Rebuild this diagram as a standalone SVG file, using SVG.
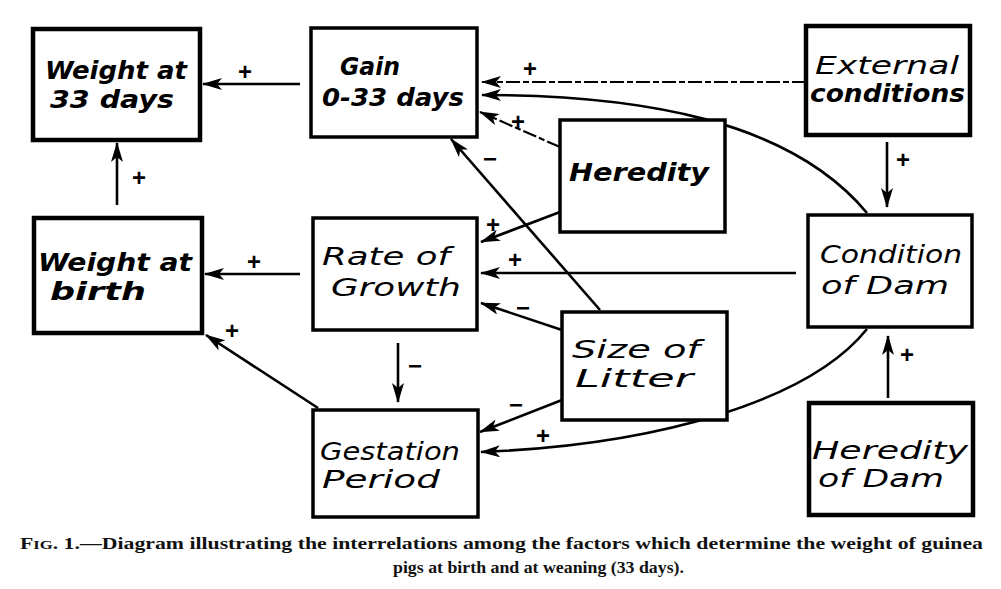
<svg xmlns="http://www.w3.org/2000/svg" width="1001" height="589" viewBox="0 0 1001 589">
  <style>
    .box { fill: #fff; stroke: #000; stroke-width: 3.5; }
    .thick { stroke-width: 4.5; }
    .lbl { font-family: "DejaVu Sans", "Liberation Sans", sans-serif; font-style: italic; font-size: 24px; fill: #000; }
    .bold { font-weight: bold; }
    .edge { fill: none; stroke: #000; stroke-width: 2.6; marker-end: url(#head); }
    .faint { stroke-width: 2.2; stroke-dasharray: 14 3 6 3; }
    .sign { font-family: "Liberation Sans", sans-serif; font-weight: bold; font-size: 24px; fill: #000; text-anchor: middle; }
    .cap { font-family: "Liberation Serif", serif; font-weight: bold; font-size: 17px; fill: #111; }
  </style>
  <defs>
    <marker id="head" viewBox="0 0 20 12" markerWidth="20" markerHeight="12" refX="19" refY="6" orient="auto" markerUnits="userSpaceOnUse">
      <path d="M0,0 L20,6 L0,12 L5,6 z" fill="#000"/>
    </marker>
  </defs>
  <rect width="1001" height="589" fill="#fff"/>

  <!-- connectors -->
  <g id="connectors">
    <path class="edge" d="M300,84 L203,84"/>
    <path class="edge" d="M117,205 L117,143"/>
    <path class="edge" d="M300,274 L205,274"/>
    <path class="edge" d="M318,408 L206,335"/>
    <path class="edge" d="M398,343 L398,402"/>
    <path class="edge" d="M560,212 L481,242"/>
    <path class="edge" d="M796,273 L481,273"/>
    <path class="edge" d="M562,330 L481,303"/>
    <path class="edge" d="M600,310 L451,139"/>
    <path class="edge" d="M562,400 L480,432"/>
    <path class="edge" d="M867,329 C810,400 660,445 481,452"/>
    <path class="edge" d="M867,213 C790,120 640,95 482,95"/>
    <path class="edge faint" d="M806,82 L482,82"/>
    <path class="edge faint" d="M560,147 L480,112"/>
    <path class="edge" d="M887,142 L887,207"/>
    <path class="edge" d="M888,398 L888,336"/>
  </g>

  <!-- effect signs -->
  <g id="signs">
    <text class="sign" x="245" y="80">+</text>
    <text class="sign" x="139" y="186">+</text>
    <text class="sign" x="254" y="270">+</text>
    <text class="sign" x="232" y="339">+</text>
    <text class="sign" x="415" y="374">−</text>
    <text class="sign" x="493" y="233">+</text>
    <text class="sign" x="515" y="268">+</text>
    <text class="sign" x="523" y="316">−</text>
    <text class="sign" x="490" y="167">−</text>
    <text class="sign" x="516" y="413">−</text>
    <text class="sign" x="543" y="444">+</text>
    <text class="sign" x="530" y="77">+</text>
    <text class="sign" x="518" y="130">+</text>
    <text class="sign" x="903" y="168">+</text>
    <text class="sign" x="907" y="363">+</text>
  </g>

  <g id="weight33">
    <rect class="box thick" x="33" y="29" width="167" height="111"/>
    <text class="lbl bold" x="45" y="79" textLength="142" lengthAdjust="spacingAndGlyphs">Weight at</text>
    <text class="lbl bold" x="50" y="108" textLength="124" lengthAdjust="spacingAndGlyphs">33 days</text>
  </g>

  <g id="gain">
    <rect class="box" x="311" y="28" width="166" height="109"/>
    <text class="lbl bold" x="340" y="75" textLength="60" lengthAdjust="spacingAndGlyphs">Gain</text>
    <text class="lbl bold" x="322" y="106" textLength="142" lengthAdjust="spacingAndGlyphs">0-33 days</text>
  </g>

  <g id="external">
    <rect class="box thick" x="806" y="26" width="164" height="109"/>
    <text class="lbl" x="815" y="74" textLength="144" lengthAdjust="spacingAndGlyphs">External</text>
    <text class="lbl bold" x="810" y="102" textLength="155" lengthAdjust="spacingAndGlyphs">conditions</text>
  </g>

  <g id="heredity">
    <rect class="box" x="560" y="120" width="165" height="112"/>
    <text class="lbl bold" x="569" y="181" textLength="140" lengthAdjust="spacingAndGlyphs">Heredity</text>
  </g>

  <g id="weightbirth">
    <rect class="box thick" x="34" y="218" width="168" height="115"/>
    <text class="lbl bold" x="38" y="271" textLength="154" lengthAdjust="spacingAndGlyphs">Weight at</text>
    <text class="lbl bold" x="50" y="300" textLength="96" lengthAdjust="spacingAndGlyphs">birth</text>
  </g>

  <g id="rate">
    <rect class="box" x="313" y="218" width="164" height="112"/>
    <text class="lbl" x="322" y="265" textLength="128" lengthAdjust="spacingAndGlyphs">Rate of</text>
    <text class="lbl" x="331" y="296" textLength="130" lengthAdjust="spacingAndGlyphs">Growth</text>
  </g>

  <g id="litter">
    <rect class="box" x="562" y="312" width="165" height="108"/>
    <text class="lbl" x="572" y="358" textLength="128" lengthAdjust="spacingAndGlyphs">Size of</text>
    <text class="lbl" x="575" y="387" textLength="118" lengthAdjust="spacingAndGlyphs">Litter</text>
  </g>

  <g id="conditiondam">
    <rect class="box" x="808" y="215" width="164" height="112"/>
    <text class="lbl" x="820" y="263" textLength="142" lengthAdjust="spacingAndGlyphs">Condition</text>
    <text class="lbl" x="821" y="294" textLength="128" lengthAdjust="spacingAndGlyphs">of  Dam</text>
  </g>

  <g id="gestation">
    <rect class="box" x="313" y="410" width="165" height="107"/>
    <text class="lbl" x="320" y="460" textLength="140" lengthAdjust="spacingAndGlyphs">Gestation</text>
    <text class="lbl" x="322" y="488" textLength="118" lengthAdjust="spacingAndGlyphs">Period</text>
  </g>

  <g id="hereditydam">
    <rect class="box thick" x="809" y="403" width="164" height="112"/>
    <text class="lbl" x="812" y="459" textLength="156" lengthAdjust="spacingAndGlyphs">Heredity</text>
    <text class="lbl" x="818" y="487" textLength="126" lengthAdjust="spacingAndGlyphs">of  Dam</text>
  </g>

  <!-- caption -->
  <g id="caption">
    <text class="cap" x="20" y="549" textLength="963" lengthAdjust="spacingAndGlyphs">F<tspan font-size="13">IG</tspan>. 1.—Diagram illustrating the interrelations among the factors which determine the weight of guinea</text>
    <text class="cap" x="393" y="573" textLength="291" lengthAdjust="spacingAndGlyphs">pigs at birth and at weaning (33 days).</text>
  </g>
</svg>
